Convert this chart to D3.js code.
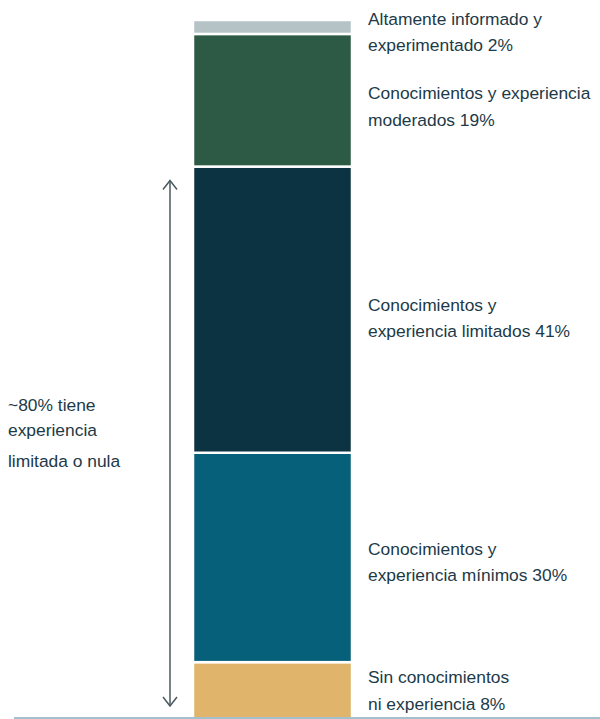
<!DOCTYPE html>
<html><head><meta charset="utf-8">
<script src="https://cdn.jsdelivr.net/npm/d3@7"></script>
<style>body{margin:0;background:#fff}svg{display:block}</style>
</head><body>
<script>
const categories = ["Sin conocimientos ni experiencia","Conocimientos y experiencia mínimos","Conocimientos y experiencia limitados","Conocimientos y experiencia moderados","Altamente informado y experimentado"];
const values = [8, 30, 41, 19, 2];
const labelLines = [
  ["Sin conocimientos","ni experiencia 8%"],
  ["Conocimientos y","experiencia mínimos 30%"],
  ["Conocimientos y","experiencia limitados 41%"],
  ["Conocimientos y experiencia","moderados 19%"],
  ["Altamente informado y","experimentado 2%"]
];
const labelShift = [-7, -2.5, 1, -1, -2];
const colors = ["#e0b46a","#07607a","#0c3342","#2c5a45","#b6c3c6"];
const noteLines = ["~80% tiene","experiencia","limitada o nula"];
const arrowSpan = [0, 79];

const W=600,H=719;
const svg=d3.select("body").append("svg").attr("width",W).attr("height",H);
const y=d3.scaleLinear().domain([0,100]).range([718,20]);
const x=d3.scaleBand().domain(["all"]).range([193,352]).padding(0);
const txt="#1d3a48";
const FS=17.4;
const FF="Liberation Sans, Arial, sans-serif";

let cum=0;
const stacked=values.map((v,i)=>{const s={i,y0:cum,y1:cum+v};cum+=v;return s;});

svg.selectAll("rect.seg").data(stacked).join("rect").attr("class","seg")
  .attr("x",x("all")).attr("width",x.bandwidth())
  .attr("y",d=>y(d.y1)).attr("height",d=>y(d.y0)-y(d.y1)+(d.i===0?2:0))
  .attr("fill",d=>colors[d.i]).attr("stroke","#fff").attr("stroke-width",2.5);

// labels
stacked.forEach(d=>{
  const cy=(y(d.y0)+y(d.y1))/2+labelShift[d.i];
  const t=svg.append("text").attr("x",368).attr("y",cy)
    .attr("font-family",FF).attr("font-size",FS).attr("fill",txt);
  labelLines[d.i].forEach((l,k)=>t.append("tspan").attr("x",368).attr("y",cy+k*26.5).text(l));
});

// baseline
svg.append("line").attr("x1",14).attr("x2",600).attr("y1",718).attr("y2",718)
  .attr("stroke","#a3c0cc").attr("stroke-width",2);

// arrow
const ax=170, ayTop=y(arrowSpan[1])+14, ayBot=y(arrowSpan[0])-12;
const ac="#4b5a62";
svg.append("line").attr("x1",ax).attr("x2",ax).attr("y1",ayTop).attr("y2",ayBot).attr("stroke",ac).attr("stroke-width",1.5);
svg.append("path").attr("d",`M${ax-7},${ayTop+9}L${ax},${ayTop}L${ax+7},${ayTop+9}`).attr("fill","none").attr("stroke",ac).attr("stroke-width",1.5);
svg.append("path").attr("d",`M${ax-7},${ayBot-9}L${ax},${ayBot}L${ax+7},${ayBot-9}`).attr("fill","none").attr("stroke",ac).attr("stroke-width",1.5);

// note
const noteY=[411,436,467];
noteLines.forEach((l,k)=>svg.append("text").attr("x",8).attr("y",noteY[k])
  .attr("font-family",FF).attr("font-size",FS).attr("fill",txt).text(l));
</script>
</body></html>
